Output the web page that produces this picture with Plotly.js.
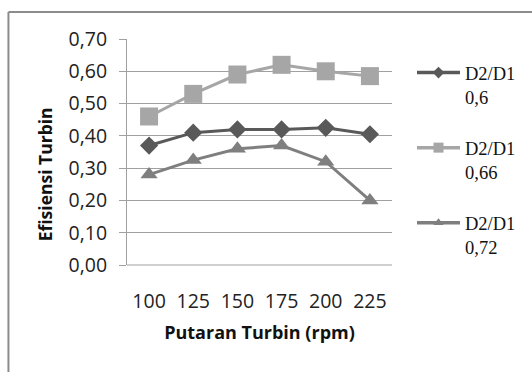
<!DOCTYPE html>
<html>
<head>
<meta charset="utf-8">
<script src="https://cdn.plot.ly/plotly-3.0.1.min.js"></script>
<style>
html,body{margin:0;padding:0;background:#fff;}
#chart{width:532px;height:372px;}
</style>
</head>
<body>
<div id="chart"></div>
<script>
const categories = ['100', '125', '150', '175', '200', '225'];
const seriesNames = ['D2/D1<br>0,6', 'D2/D1<br>0,66', 'D2/D1<br>0,72'];
const series06 = [0.37, 0.41, 0.42, 0.42, 0.425, 0.405];
const series066 = [0.46, 0.53, 0.59, 0.62, 0.60, 0.585];
const series072 = [0.28, 0.325, 0.36, 0.37, 0.32, 0.20];
const yTicks = [0, 0.1, 0.2, 0.3, 0.4, 0.5, 0.6, 0.7];
const xTitle = 'Putaran Turbin (rpm)';
const yTitle = 'Efisiensi Turbin';

const colors = ['#595959', '#a6a6a6', '#7f7f7f'];
const symbols = ['diamond', 'square', 'triangle-up'];
const markerSizes = [14, 18, 15];
const legendMarkerSizes = [9, 10, 9];
const allSeries = [series06, series066, series072];

const dataTraces = allSeries.map((vals, i) => ({
  type: 'scatter',
  mode: 'lines+markers',
  x: categories,
  y: vals,
  name: seriesNames[i],
  showlegend: false,
  line: {color: colors[i], width: 3},
  marker: {symbol: symbols[i], size: markerSizes[i], color: colors[i]},
  cliponaxis: false
}));

const legendTraces = allSeries.map((vals, i) => ({
  type: 'scatter',
  mode: 'lines+markers',
  x: [categories[0]],
  y: [null],
  name: seriesNames[i],
  legendgroup: 'g' + i,
  showlegend: true,
  hoverinfo: 'skip',
  line: {color: colors[i], width: 3.5},
  marker: {symbol: symbols[i], size: legendMarkerSizes[i], color: colors[i]}
}));

const L = 127, R = 393, T = 39, B = 265;
const W = 532, H = 372;
const px = x => (x - L) / (R - L);
const py = y => (B - y) / (B - T);

const layout = {
  width: W, height: H,
  margin: {l: L, r: W - R, t: T, b: H - B, pad: 0},
  paper_bgcolor: '#ffffff',
  plot_bgcolor: '#ffffff',
  separators: ',.',
  font: {family: '"Open Sans", sans-serif', color: '#222'},
  showlegend: true,
  legend: {
    x: px(412), xanchor: 'left',
    y: py(54), yanchor: 'top',
    font: {family: '"Liberation Serif", serif', size: 18.5, color: '#111'},
    valign: 'top',
    tracegroupgap: 24,
    itemwidth: 43,
    bgcolor: 'rgba(0,0,0,0)'
  },
  xaxis: {
    type: 'category',
    range: [-0.5, 5.5],
    showgrid: false,
    showline: false,
    zeroline: false,
    ticks: 'outside', ticklen: 19, tickcolor: 'rgba(0,0,0,0)',
    tickfont: {size: 19.5, color: '#222'},
    title: {text: xTitle, font: {size: 18, weight: 'bold', color: '#111'}, standoff: 12}
  },
  yaxis: {
    range: [0, 0.7],
    tickvals: yTicks,
    tickformat: '.2f',
    showgrid: true, gridcolor: '#a0a0a0', gridwidth: 1,
    showline: true, linecolor: '#a0a0a0', linewidth: 1,
    zeroline: false,
    ticks: 'outside', ticklen: 7, tickcolor: '#a0a0a0',
    ticklabelstandoff: 8,
    tickfont: {size: 19.5, color: '#222'}
  },
  annotations: [
    {text: yTitle, xref: 'paper', yref: 'paper', x: px(45), y: py(174), xanchor: 'center', yanchor: 'middle',
     textangle: -90, showarrow: false, font: {size: 17.5, weight: 'bold', color: '#111'}}
  ],
  shapes: [
    {type: 'line', xref: 'paper', yref: 'paper', x0: px(8), x1: px(540), y0: py(12), y1: py(12), line: {color: '#8c8c8c', width: 2}},
    {type: 'line', xref: 'paper', yref: 'paper', x0: px(8), x1: px(8), y0: py(12), y1: py(380), line: {color: '#8c8c8c', width: 2}},
    {type: 'line', xref: 'paper', yref: 'paper', x0: 0, x1: 1, y0: 0, y1: 0, line: {color: '#a0a0a0', width: 1}, layer: 'below'}
  ]
};

Plotly.newPlot('chart', dataTraces.concat(legendTraces), layout, {displayModeBar: false, staticPlot: true});
</script>
</body>
</html>
